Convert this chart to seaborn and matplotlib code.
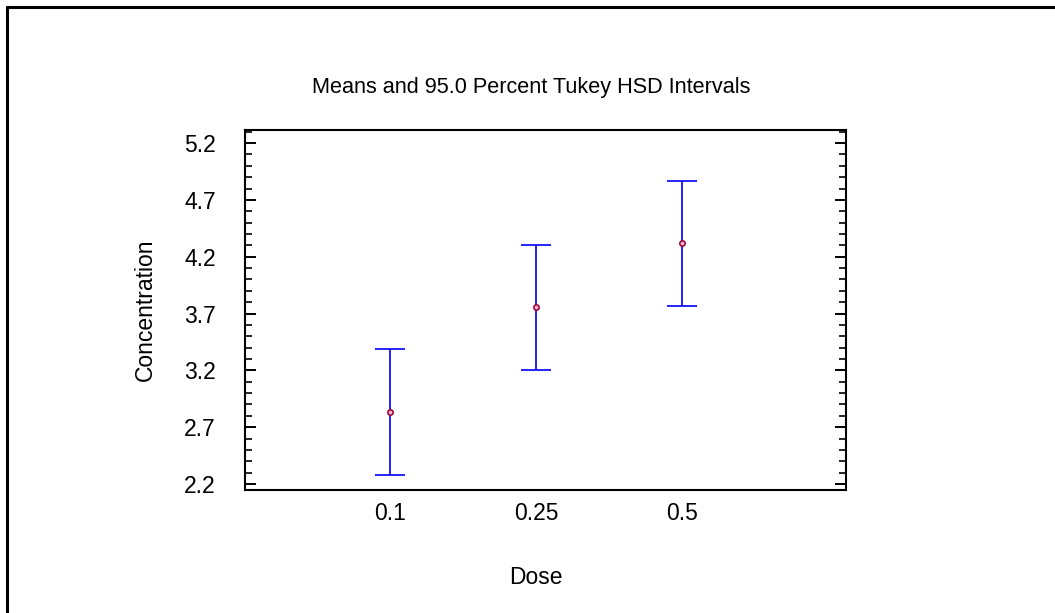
import numpy as np
import pandas as pd
import matplotlib
matplotlib.use("Agg")
import matplotlib.pyplot as plt
from matplotlib.lines import Line2D
from matplotlib.ticker import MultipleLocator, FormatStrFormatter
import seaborn as sns

# values
doses = ["0.1", "0.25", "0.5"]
means = [2.833, 3.755, 4.317]
half_width = [0.551, 0.550, 0.550]

sns.set_theme(style="white")
plt.rcParams["font.family"] = ["Liberation Sans", "DejaVu Sans"]

df = pd.DataFrame({"Dose": doses, "Concentration": means, "hw": half_width})
df["pos"] = np.arange(len(df))

fig = plt.figure(figsize=(10.55, 6.13), dpi=100)
ax = fig.add_axes([0.2322, 0.2007, 0.5697, 0.5872])

# Tukey HSD intervals
ax.errorbar(df["pos"], df["Concentration"], yerr=df["hw"], fmt="none",
            ecolor="#0000FF", elinewidth=1.2, capsize=10.8, capthick=1.2, zorder=2)
# means
sns.scatterplot(data=df, x="pos", y="Concentration", ax=ax, marker="o", s=15,
                facecolor="#FFB0D0", edgecolor="#990033", linewidth=1.1, zorder=3)

ax.set_xlim(-0.993, 3.12)
ax.set_ylim(2.147, 5.315)
ax.set_xticks(df["pos"])
ax.set_xticklabels(doses)
ax.set_yticks(np.arange(2.2, 5.3, 0.5))
ax.yaxis.set_major_formatter(FormatStrFormatter("%.1f"))
ax.yaxis.set_minor_locator(MultipleLocator(0.1))

for s in ax.spines.values():
    s.set_color("black")
    s.set_linewidth(1.5)
ax.tick_params(axis="y", which="major", direction="in", length=8, width=1.4,
               left=True, right=True, labelsize=16.5, pad=21, colors="black")
ax.tick_params(axis="y", which="minor", direction="in", length=5, width=1.4,
               left=True, right=True)
ax.tick_params(axis="x", which="both", length=0, labelsize=16.5, pad=8.5, colors="black")

ax.set_xlabel("Dose", fontsize=16.5, color="black", va="center")
ax.xaxis.set_label_coords(0.484, -0.244)
ax.set_ylabel("Concentration", fontsize=16.5, color="black", va="center")
ax.yaxis.set_label_coords(-0.1664, 0.5)
fig.text(531 / 1055, 1 - 87 / 613, "Means and 95.0 Percent Tukey HSD Intervals",
         fontsize=15.6, ha="center", va="center", color="black")

# frame of the original window (top and left edges only)
fig.add_artist(Line2D([0.0071, 0.0071], [0.0, 0.9878], transform=fig.transFigure,
                      color="black", linewidth=2.2))
fig.add_artist(Line2D([0.0071, 1.0], [0.9878, 0.9878], transform=fig.transFigure,
                      color="black", linewidth=2.2))

fig.savefig("out.png", dpi=100, facecolor="white")
